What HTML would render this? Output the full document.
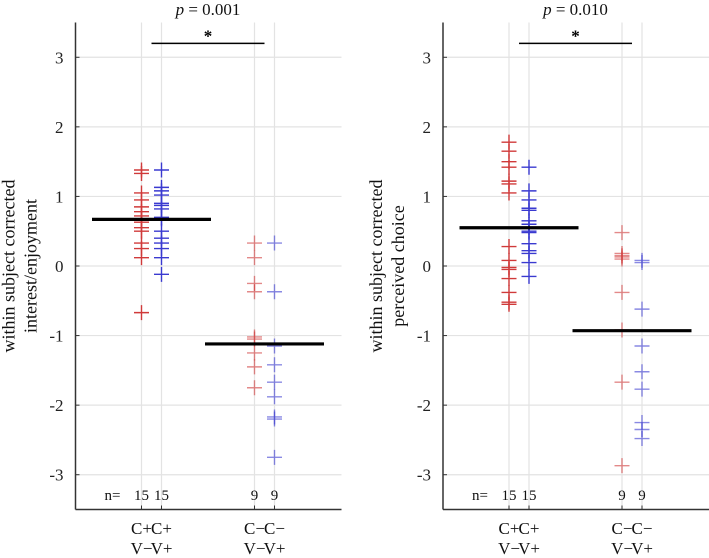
<!DOCTYPE html>
<html><head><meta charset="utf-8"><style>
html,body{margin:0;padding:0;background:#fff;}
svg{display:block;font-family:"Liberation Serif","DejaVu Serif",serif;}
</style></head><body>
<svg id="chart" width="709" height="558" viewBox="0 0 709 558"></svg>
<script>
const categories = ["C+ V−","C+ V+","C− V−","C− V+"];
const leftRed1 = [1.38,1.33,1.05,0.95,0.85,0.78,0.72,0.68,0.63,0.55,0.50,0.33,0.25,0.12,-0.67];
const leftBlue1 = [1.38,1.13,1.08,1.02,0.90,0.87,0.82,0.70,0.68,0.50,0.40,0.33,0.25,0.12,-0.12];
const leftRed2 = [0.33,0.12,-0.25,-0.37,-1.02,-1.05,-1.25,-1.45,-1.75];
const leftBlue2 = [0.33,-0.37,-1.15,-1.42,-1.67,-1.88,-2.17,-2.20,-2.75];
const leftMeans = [0.67,-1.12];
const rightRed1 = [1.78,1.65,1.50,1.42,1.22,1.18,1.05,0.28,0.08,-0.02,-0.05,-0.18,-0.38,-0.52,-0.55];
const rightBlue1 = [1.42,1.08,0.95,0.83,0.80,0.65,0.60,0.55,0.50,0.48,0.32,0.22,0.18,0.05,-0.15];
const rightRed2 = [0.48,0.18,0.15,0.13,0.10,-0.38,-0.92,-1.67,-2.87];
const rightBlue2 = [0.08,0.05,-0.62,-1.15,-1.52,-1.77,-2.25,-2.35,-2.48];
const rightMeans = [0.55,-0.93];
const yTicks = [-3,-2,-1,0,1,2,3];
const pLabels = ["0.001","0.010"];

const NS="http://www.w3.org/2000/svg";
const svg=document.getElementById('chart');
function mk(tag,attrs,parent){const e=document.createElementNS(NS,tag);for(const k in attrs)e.setAttribute(k,attrs[k]);(parent||svg).appendChild(e);return e;}

const yTop=22.5,yBot=509.5,yMin=-3.5,yMax=3.5;
function yS(v){return yTop+(yMax-v)/(yMax-yMin)*(yBot-yTop);}

function panel(ax0,groups,means,p,title,name){
  const g=mk('g',{});
  
  
  const xS=(gi,sub)=>ax0+66+gi*113+sub*20;
  const right=ax0+266;
  yTicks.forEach(t=>{
    const l=mk('line',{x1:ax0,x2:right,y1:yS(t),y2:yS(t),stroke:'#e3e3e3','stroke-width':1.2},g);
    
    
    const tx=mk('text',{x:ax0-12,y:yS(t)+6,'text-anchor':'end','font-size':17,fill:'#222'},g);
    tx.textContent=t;
    
    
    mk('line',{x1:ax0,x2:ax0+4,y1:yS(t),y2:yS(t),stroke:'#333','stroke-width':1},g);
  });
  for(let gi=0;gi<2;gi++)for(let s=0;s<2;s++){
    const x=xS(gi,s);
    const l=mk('line',{x1:x,x2:x,y1:yTop,y2:yBot,stroke:'#e3e3e3','stroke-width':1.2},g);
    
    
    mk('line',{x1:x,x2:x,y1:yBot,y2:yBot-4,stroke:'#333','stroke-width':1},g);
  }
  const ya=mk('line',{x1:ax0,x2:ax0,y1:yTop,y2:yBot,stroke:'#333','stroke-width':1.5},g);
  
  
  const xa=mk('line',{x1:ax0,x2:right,y1:yBot,y2:yBot,stroke:'#333','stroke-width':1.5},g);
  
  
  const cols=[['#d03a3a',1],['#3a3ad0',1],['#d03a3a',0.6],['#3a3ad0',0.6]];
  groups.forEach((arr,k)=>{
    const gi=k>>1,s=k&1,x=xS(gi,s);
    arr.forEach(v=>{
      const y=yS(v);
      const pth=mk('path',{d:`M${x-7.5},${y}H${x+7.5}M${x},${y-7.5}V${y+7.5}`,stroke:cols[k][0],'stroke-opacity':cols[k][1],'stroke-width':1.4,fill:'none'},g);
      
      
    });
  });
  means.forEach((m,gi)=>{
    const c=(xS(gi,0)+xS(gi,1))/2;
    const l=mk('line',{x1:c-59.5,x2:c+59.5,y1:yS(m),y2:yS(m),stroke:'#000','stroke-width':3.2},g);
    
    
  });
  const nl=mk('text',{x:xS(0,0)-29,y:500,'text-anchor':'middle','font-size':15,fill:'#111'},g);
  nl.textContent='n=';
  
  
  groups.forEach((arr,k)=>{
    const t=mk('text',{x:xS(k>>1,k&1),y:500,'text-anchor':'middle','font-size':15,fill:'#111'},g);
    t.textContent=arr.length;
    
    
  });
  categories.forEach((c,k)=>{
    const parts=c.split(' ');
    const x=xS(k>>1,k&1);
    [0,1].forEach(i=>{
      const t=mk('text',{x:x,y:534+i*20,'text-anchor':'middle','font-size':17,fill:'#111'},g);
      t.textContent=parts[i];
      
      
    });
  });
  const sl=mk('line',{x1:xS(0,0)+10,x2:xS(1,0)+10,y1:yS(3.2),y2:yS(3.2),stroke:'#000','stroke-width':1.4},g);
  
  
  const st=mk('text',{x:(xS(0,0)+xS(1,1))/2,y:yS(3.2)-2,'text-anchor':'middle','font-size':17,'font-weight':'bold',fill:'#000'},g);
  st.textContent='*';
  
  
  const tt=mk('text',{x:(xS(0,0)+xS(1,1))/2,y:15,'text-anchor':'middle','font-size':17,fill:'#111'},g);
  tt.innerHTML='<tspan font-style="italic">p</tspan> = '+p;
  
  
  [0,1].forEach(i=>{
    const cx=ax0-61+i*22;
    const t=mk('text',{x:cx,y:266,'text-anchor':'middle','font-size':18,fill:'#111',transform:`rotate(-90 ${cx} 266)`},g);
    t.textContent=title[i];
    
    
  });
}
panel(75.5,[leftRed1,leftBlue1,leftRed2,leftBlue2],leftMeans,pLabels[0],["within subject corrected","interest/enjoyment"],'left-panel');
panel(443,[rightRed1,rightBlue1,rightRed2,rightBlue2],rightMeans,pLabels[1],["within subject corrected","perceived choice"],'right-panel');
</script>
</body></html>
